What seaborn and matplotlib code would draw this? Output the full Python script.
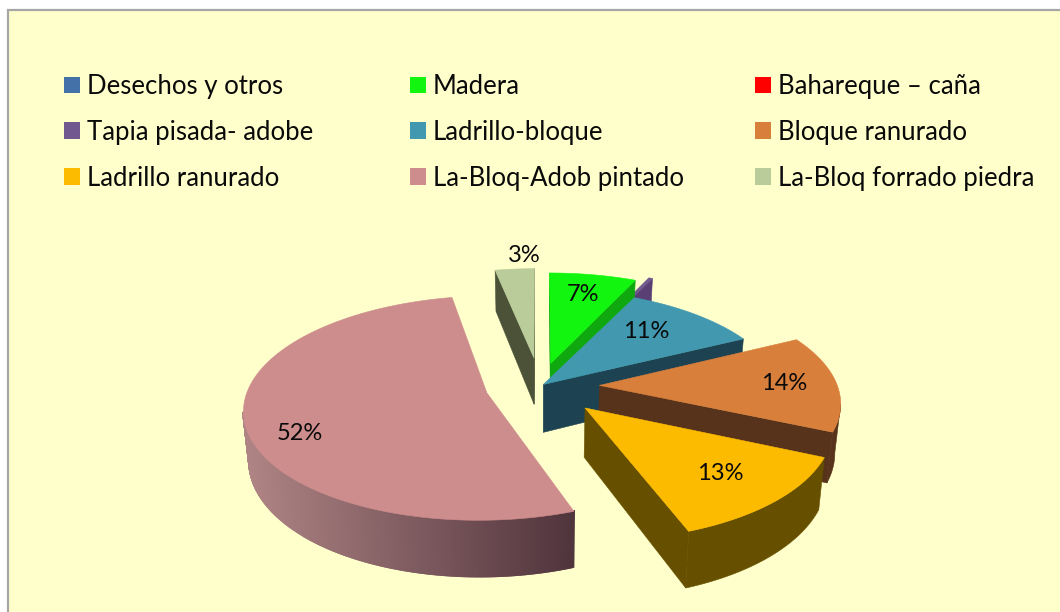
import numpy as np
import matplotlib
matplotlib.use("Agg")
import matplotlib.pyplot as plt
from matplotlib.patches import Polygon, Patch, Rectangle
import matplotlib.colors as mc
import seaborn as sns

# data
categories = ["Desechos y otros", "Madera", "Bahareque – caña", "Tapia pisada- adobe",
              "Ladrillo-bloque", "Bloque ranurado", "Ladrillo ranurado",
              "La-Bloq-Adob pintado", "La-Bloq forrado piedra"]
values = [0, 6.8, 0, 0.3, 10.5, 14.1, 12.7, 52.49, 3.11]
labels_shown = ["", "7%", "", "", "11%", "14%", "13%", "52%", "3%"]

# style
top_hex = ["#4472A8", "#12F50F", "#FF0000", "#71588F", "#4198AF",
           "#D97F3C", "#FDBB00", "#CE8D8D", "#B9CC99"]
side_hex = ["#2A4668", "#0FA80F", "#990000", "#5A3F75", "#1D4352",
            "#56331A", "#665000", "#8C6464", "#4B5238"]
explode = [0, 0.22, 0, 0.27, 0.02, 0.25, 0.27, 0.23, 0.27]
label_dist = [0, 0.75, 0, 0, 0.70, 0.78, 0.73, 0.81, 1.17]
label_turn = [0, 0, 0, 0, 3, 0, 0, 10, -3]
draw_order = [3, 1, 8, 4, 5, 6, 7]
CX, CY, R, K, P, Q, D = 540, 386, 238, 0.455, 0.135, 0.02, 48

sns.set_theme(style="white")
plt.rcParams["font.family"] = ["Lato", "DejaVu Sans"]
palette = sns.color_palette(top_hex)

fig = plt.figure(figsize=(10.6, 6.12), dpi=100, facecolor="white")

# the slice geometry comes from the library's pie layout
pie_ax = fig.add_axes([0, 0, 0.1, 0.1])
wedges, _ = pie_ax.pie(values, explode=explode, startangle=90, counterclock=False)
pie_ax.set_visible(False)

ax = fig.add_axes([0, 0, 1, 1])
ax.set_xlim(0, 1060)
ax.set_ylim(612, 0)
ax.axis("off")
ax.add_patch(Rectangle((8, 10), 1100, 700, fc="#FFFFCC", ec="#A6A6A6", lw=1.6, zorder=0))


def project(x, y, z=0.0):
    x, y = np.asarray(x, float), np.asarray(y, float)
    w = 1 + P * y
    return np.column_stack([CX + R * x / (w * (1 + Q * z)),
                            CY - R * K * y / w + D * z / w])


cam = np.array([0.0, -1.0 / P])
zo = 1


def face(pts, color, lw=0.4):
    global zo
    ax.add_patch(Polygon(pts, closed=True, fc=color, ec=color, lw=lw, zorder=zo))
    zo += 1


for i in draw_order:
    wd = wedges[i]
    c = np.array(wd.center)
    th = np.radians(np.arange(wd.theta1, wd.theta2, 0.5).tolist() + [wd.theta2])
    ax_pts = c[0] + wd.r * np.cos(th)
    ay_pts = c[1] + wd.r * np.sin(th)
    # straight cut faces
    for edge, ang, sgn in ((0, th[0], 1), (-1, th[-1], -1)):
        d = np.array([np.cos(ang), np.sin(ang)])
        normal = sgn * np.array([d[1], -d[0]])
        if normal @ (cam - c) > 0:
            ex, ey = ax_pts[edge], ay_pts[edge]
            quad = np.vstack([project([c[0], ex], [c[1], ey], 0),
                              project([ex, c[0]], [ey, c[1]], 1)])
            face(quad, side_hex[i])
    # outer rim, facing part only
    top = project(ax_pts, ay_pts, 0)
    bot = project(ax_pts, ay_pts, 1)
    xmin, xmax = top[:, 0].min(), top[:, 0].max()
    mids = 0.5 * (th[:-1] + th[1:])
    normals = np.column_stack([np.cos(mids), np.sin(mids)])
    facing = [n @ (cam - (c + wd.r * n)) > 0 for n in normals]
    keep = [j for j, f in enumerate(facing) if f]
    if keep:
        if i == 7:  # the large slice's rim is shaded from left to right
            for j in keep:
                t = (top[j, 0] - xmin) / (xmax - xmin)
                col = mc.to_hex((1 - t) * np.array(mc.to_rgb("#B08585")) + t * np.array(mc.to_rgb("#50343C")))
                face(np.vstack([top[j], top[j + 1], bot[j + 1], bot[j]]), col, lw=1.6)
        else:
            a, b = keep[0], keep[-1] + 1
            face(np.vstack([top[a:b + 1], bot[a:b + 1][::-1]]), side_hex[i])
    # top face
    face(np.vstack([project([c[0]], [c[1]]), top]), palette[i])

# percentage labels
for i, txt in enumerate(labels_shown):
    if not txt:
        continue
    wd = wedges[i]
    a = np.radians(0.5 * (wd.theta1 + wd.theta2) + label_turn[i])
    p = project([wd.center[0] + label_dist[i] * np.cos(a)],
                [wd.center[1] + label_dist[i] * np.sin(a)])[0]
    ax.text(p[0], p[1], txt, ha="center", va="center", fontsize=17, color="#0A0A0A", zorder=zo + 1)

# legend: three columns, filled row by row
col_x = [64, 410, 755]
for col, x0 in enumerate(col_x):
    idx = range(col, 9, 3)
    hs = [Patch(fc=palette[k], ec="none", label=categories[k]) for k in idx]
    leg = ax.legend(handles=hs, loc="upper left", bbox_to_anchor=(x0, 74), bbox_transform=ax.transData,
                    frameon=False, fontsize=18.5, ncol=1, borderpad=0, borderaxespad=0,
                    handlelength=0.62, handleheight=0.62, handletextpad=0.27, labelspacing=0.81,
                    labelcolor="#0A0A0A")
    leg.set_zorder(zo + 2)
    ax.add_artist(leg)
    ax.legend_ = None

fig.savefig("out.png", dpi=100, facecolor="white")
